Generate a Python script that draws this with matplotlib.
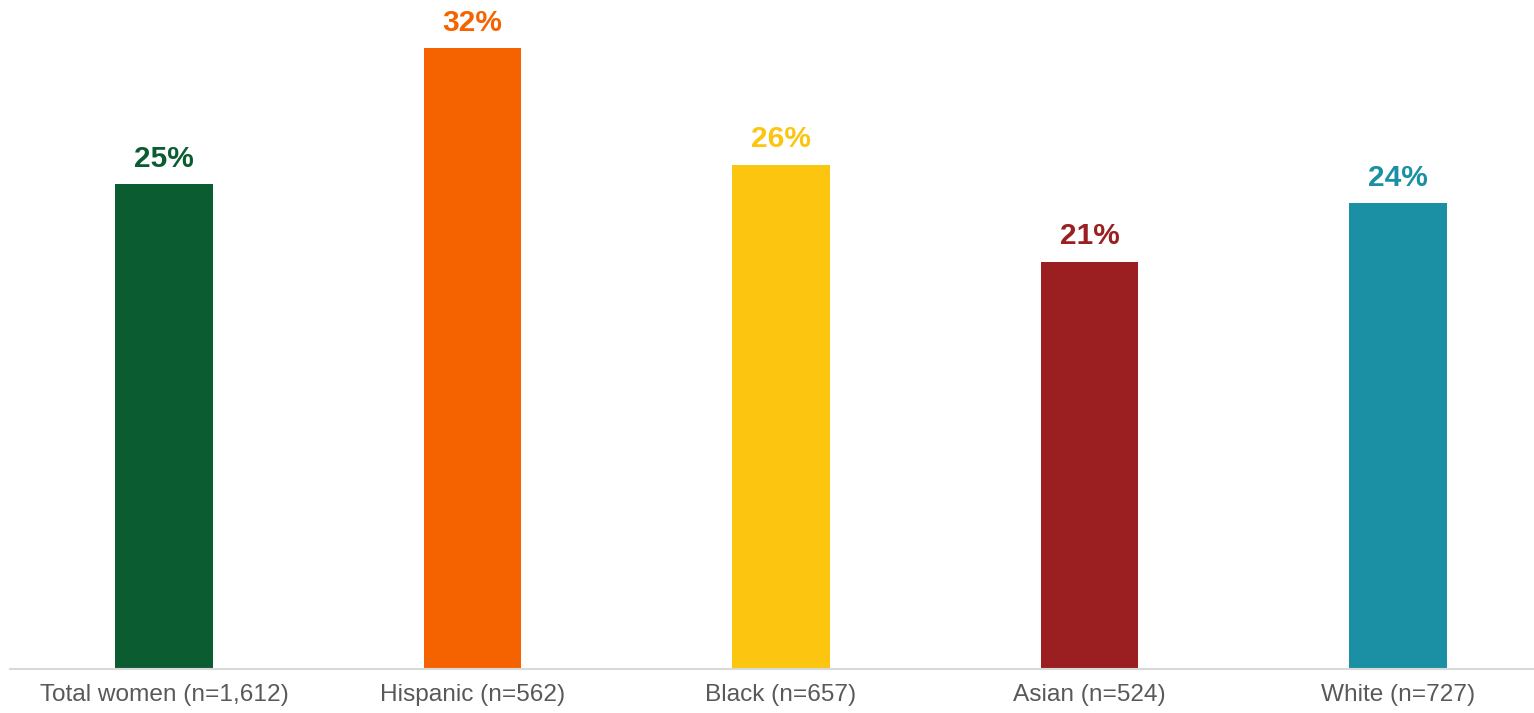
import matplotlib
matplotlib.use('Agg')
import matplotlib.pyplot as plt

categories = ['Total women (n=1,612)', 'Hispanic (n=562)', 'Black (n=657)',
              'Asian (n=524)', 'White (n=727)']
values = [25, 32, 26, 21, 24]
colors = ['#0B5C31', '#F56300', '#FCC510', '#9B1F21', '#1B90A5']

plt.rcParams['font.family'] = ['Liberation Sans', 'DejaVu Sans']


def plot_bars(out_file='out.png'):
	fig = plt.figure(figsize=(15.34, 7.13), dpi=100)
	W, H = 1534.0, 713.0
	# axes spans from the left end of the baseline to the right edge
	left, base = 9.75, 669.0
	ax = fig.add_axes([left / W, (H - base) / H, (W - left) / W, base / H])

	x = list(range(len(categories)))
	ax.bar(x, values, width=0.315, color=colors, zorder=2)

	for xi, v, c in zip(x, values, colors):
		ax.annotate('%d%%' % v, (xi, v), xytext=(0, 8), textcoords='offset points',
					ha='center', va='bottom', fontsize=21.5, fontweight='bold', color=c)

	ax.set_xlim(-0.5, (W - 164.0) / 308.5)
	ax.set_ylim(0, base / 19.4)
	ax.set_xticks(x)
	ax.set_xticklabels(categories, fontsize=17.6, color='#595959')
	ax.tick_params(axis='x', length=0, pad=11)
	ax.set_yticks([])
	for s in ['top', 'right', 'left']:
		ax.spines[s].set_visible(False)
	ax.spines['bottom'].set_color('#d9d9d9')
	ax.spines['bottom'].set_linewidth(1.5)

	fig.savefig(out_file, dpi=100)


def main():
	plot_bars('out.png')


if __name__ == '__main__':
	main()
